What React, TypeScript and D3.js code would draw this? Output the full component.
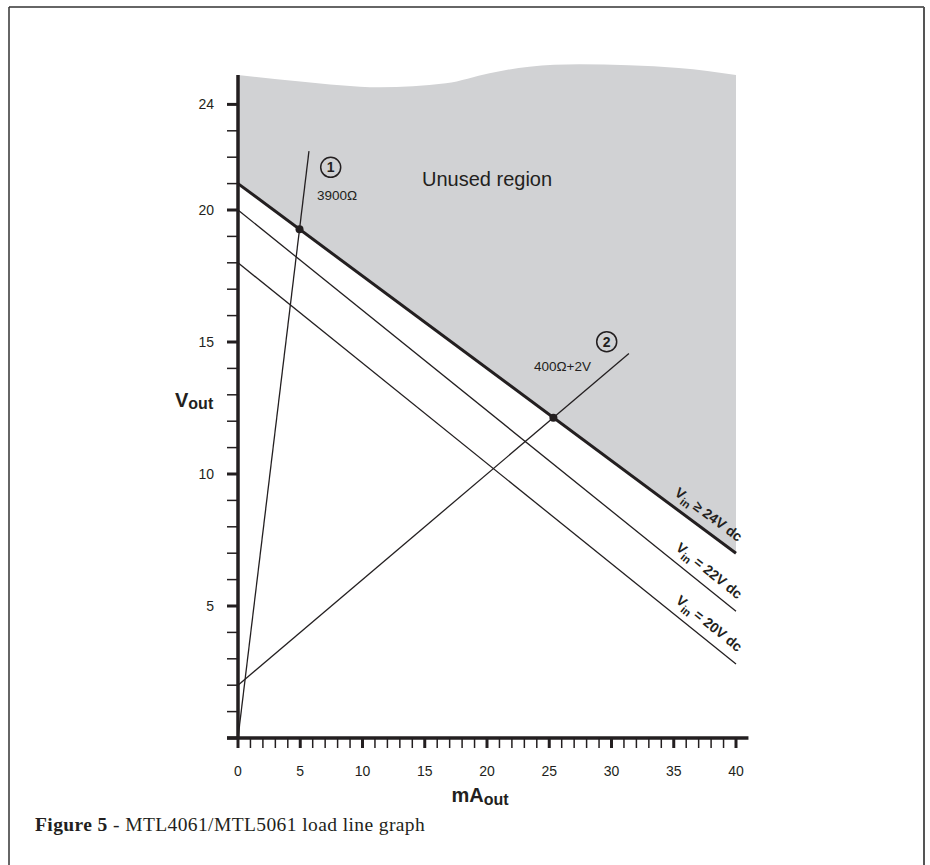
import React from 'react';
import * as d3 from 'd3';

const W = 930;
const H = 865;

// X axis (mA out)
const xMajorTicks = [0, 5, 10, 15, 20, 25, 30, 35, 40];
const xMinorTicks = d3.range(0, 41, 1);
// Y axis (V out)
const yMajorTicks = [0, 5, 10, 15, 20, 24];
const yTickLabels = [5, 10, 15, 20, 24];
const yMinorTicks = d3.range(0, 25, 1);

// Supply lines: output voltage at 0 mA and at 40 mA
const supplyNames = ['≥ 24V dc', '= 22V dc', '= 20V dc'];
const supplyV0 = [21, 20, 18];
const supplyV40 = [7, 4.8, 2.8];

// Load lines
const loadNames = ['1', '2'];
const loadLabels = ['3900Ω', '400Ω+2V'];
const loadOffset = [0, 2];
const loadSlope = [3.9, 0.4];
const loadEnd = [5.7, 31.4];

// Wavy top border of the "unused region" [mA, V]
const unusedTop: [number, number][] = [
  [0, 25.11], [5, 24.87], [11.4, 24.65], [16.7, 24.8], [20.2, 25.18],
  [23.4, 25.43], [27.4, 25.52], [35.4, 25.38], [40, 25.11],
];

const FONT = "'Liberation Sans', Arial, sans-serif";
const INK = '#231f20';

export default function App() {
  const x = d3.scaleLinear().domain([0, 40]).range([238, 736]);
  const y = d3.scaleLinear().domain([0, 24]).range([738, 104.4]);

  const supply = (i: number, mA: number) => supplyV0[i] + (supplyV40[i] - supplyV0[i]) * mA / 40;

  const area = d3.area<[number, number]>()
    .x(d => x(d[0]))
    .y0(d => y(supply(0, d[0])))
    .y1(d => y(d[1]))
    .curve(d3.curveMonotoneX);

  // intersections of load lines with the top supply line
  const s0 = (supplyV40[0] - supplyV0[0]) / 40;
  const points = loadOffset.map((b, i) => {
    const xm = (supplyV0[0] - b) / (loadSlope[i] - s0);
    return [xm, b + loadSlope[i] * xm];
  });

  const labelAt = 37.1;

  return (
    <svg width={W} height={H} style={{ position: 'absolute', left: 0, top: 0, background: '#fff' }}
      fontFamily={FONT}>
      {/* frame */}
      <line x1={9} y1={7} x2={924} y2={7} stroke="#333" strokeWidth={1.5} />
      <line x1={9} y1={7} x2={9} y2={H} stroke="#333" strokeWidth={1.5} />
      <line x1={924} y1={7} x2={924} y2={H} stroke="#555" strokeWidth={2} />

      {/* unused region */}
      <path d={area(unusedTop) || ''} fill="#d1d2d4" />
      <text x={422} y={186} fontSize={20} fill={INK}>Unused region</text>

      {/* supply lines */}
      {supplyV0.map((v, i) => (
        <line key={'s' + i} x1={x(0)} y1={y(v)} x2={x(40)} y2={y(supplyV40[i])}
          stroke={INK} strokeWidth={i === 0 ? 3 : 1.3} />
      ))}
      {supplyNames.map((name, i) => {
        const px = x(labelAt), py = y(supply(i, labelAt));
        const ang = Math.atan2(y(supplyV40[i]) - y(supplyV0[i]), x(40) - x(0)) * 180 / Math.PI;
        return (
          <text key={'sl' + i} transform={`translate(${px},${py}) rotate(${ang})`} y={-10}
            textAnchor="middle" fontSize={14} fontWeight="bold" fill={INK}>
            V<tspan fontSize={11} dy={4}>in</tspan><tspan dy={-4}> {name}</tspan>
          </text>
        );
      })}

      {/* load lines */}
      {loadOffset.map((b, i) => (
        <line key={'l' + i} x1={x(0)} y1={y(b)} x2={x(loadEnd[i])} y2={y(b + loadSlope[i] * loadEnd[i])}
          stroke={INK} strokeWidth={1.3} />
      ))}
      {points.map((p, i) => (
        <circle key={'p' + i} cx={x(p[0])} cy={y(p[1])} r={4} fill={INK} />
      ))}

      {/* load line labels */}
      <g>
        <circle cx={330.7} cy={167.3} r={10} fill="none" stroke={INK} strokeWidth={1.5} />
        <text x={330.7} y={172.3} textAnchor="middle" fontSize={14} fontWeight="bold" fill={INK}>{loadNames[0]}</text>
        <text x={317} y={200} fontSize={13.5} fill={INK}>{loadLabels[0]}</text>
        <circle cx={606.7} cy={341.7} r={10} fill="none" stroke={INK} strokeWidth={1.5} />
        <text x={606.7} y={346.7} textAnchor="middle" fontSize={14} fontWeight="bold" fill={INK}>{loadNames[1]}</text>
        <text x={534} y={371} fontSize={13.5} fill={INK}>{loadLabels[1]}</text>
      </g>

      {/* Y axis */}
      <line x1={x(0)} y1={y(25.11)} x2={x(0)} y2={y(0)} stroke={INK} strokeWidth={3.5} />
      {yMinorTicks.map(t => (
        <line key={'ym' + t} x1={227} x2={x(0)} y1={y(t)} y2={y(t)} stroke={INK}
          strokeWidth={yMajorTicks.includes(t) ? 3 : 1.5} />
      ))}
      {yTickLabels.map(t => (
        <text key={'yl' + t} x={214} y={y(t) + 5} textAnchor="end" fontSize={14} fill={INK}>{t}</text>
      ))}
      <text x={175} y={407} fontSize={20} fontWeight="bold" fill={INK}>
        V<tspan fontSize={16} dy={2}>out</tspan>
      </text>

      {/* X axis */}
      <line x1={227} x2={x(41)} y1={y(0)} y2={y(0)} stroke={INK} strokeWidth={3.5} />
      {xMinorTicks.map(t => (
        <line key={'xm' + t} x1={x(t)} x2={x(t)} y1={y(0)} y2={y(0) + 10} stroke={INK}
          strokeWidth={xMajorTicks.includes(t) ? 3 : 1.5} />
      ))}
      {xMajorTicks.map(t => (
        <text key={'xl' + t} x={x(t)} y={776} textAnchor="middle" fontSize={14} fill={INK}>{t}</text>
      ))}
      <text x={480} y={802} textAnchor="middle" fontSize={20} fontWeight="bold" fill={INK}>
        mA<tspan fontSize={16} dy={3}>out</tspan>
      </text>

      {/* caption */}
      <text x={35} y={831} fontSize={19.5} letterSpacing={0.4}
        fontFamily="'Liberation Serif', 'DejaVu Serif', serif" fill={INK}>
        <tspan fontWeight="bold">Figure 5</tspan> - MTL4061/MTL5061 load line graph
      </text>
    </svg>
  );
}
